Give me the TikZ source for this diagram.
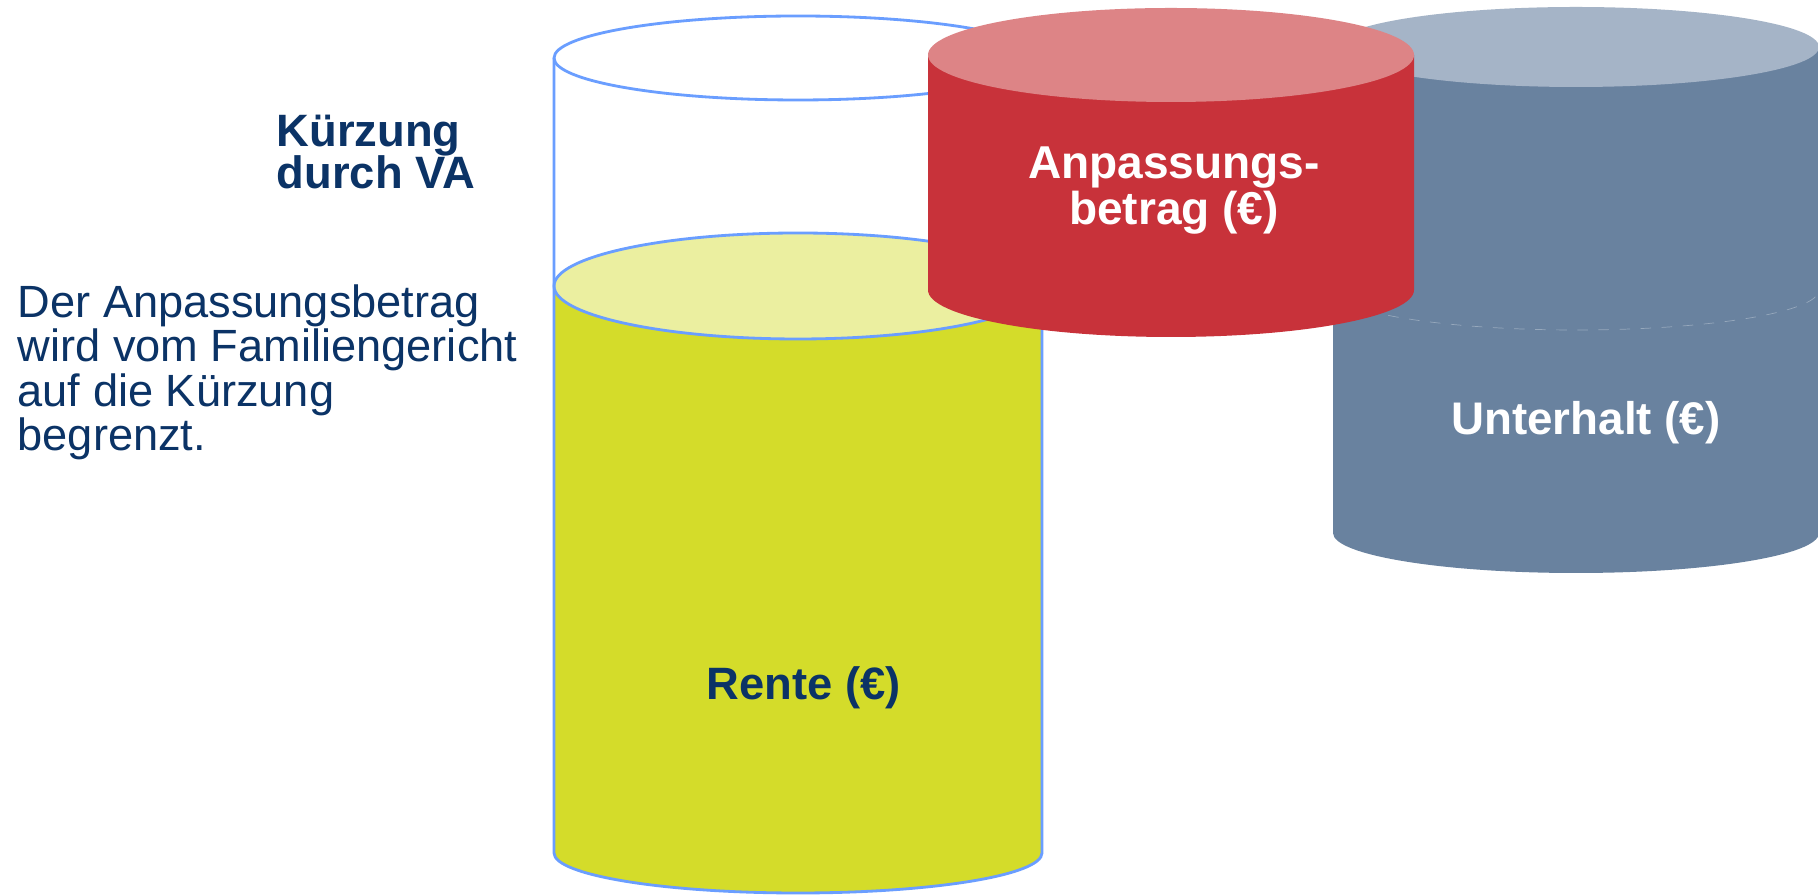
\documentclass[tikz,border=0pt]{standalone}
\usepackage{fontspec}
\setmainfont{Liberation Sans}
\usetikzlibrary{calc}

\definecolor{navy}{RGB}{11,51,102}
\definecolor{glassline}{RGB}{106,158,255}
\definecolor{lemon}{RGB}{212,220,42}
\definecolor{lemontop}{RGB}{235,239,160}
\definecolor{redside}{RGB}{200,50,58}
\definecolor{redtop}{RGB}{221,132,134}
\definecolor{blueside}{RGB}{105,130,159}
\definecolor{bluetop}{RGB}{165,180,199}

\begin{document}
\begin{tikzpicture}[
    x = 0.01cm,
    y = 0.01cm,
    cyllabel/.style = {inner sep = 0pt, align = center},
    sidetext/.style = {inner sep = 0pt, align = left, text = navy},
    glass/.style = {glassline, line width = 0.8pt}
  ]
    \useasboundingbox (0,0) rectangle (1818,-895);
    \fill[white] (0,0) rectangle (1818,-895);

    % glass with the Rente in it
    \fill[lemon] (554,-286) -- (554,-853)
      arc[start angle = 180, end angle = 360, x radius = 244, y radius = 40]
      -- (1042,-286) -- cycle;
    \fill[lemontop] (798,-286) ellipse[x radius = 244, y radius = 53];
    \draw[glass] (554,-58) -- (554,-853)
      arc[start angle = 180, end angle = 360, x radius = 244, y radius = 40]
      -- (1042,-58);
    \draw[glass] (798,-58) ellipse[x radius = 244, y radius = 42];
    \draw[glass] (798,-286) ellipse[x radius = 244, y radius = 53];

    % Unterhalt
    \fill[blueside] (1333,-47) -- (1333,-533)
      arc[start angle = 180, end angle = 360, x radius = 243, y radius = 40]
      -- (1819,-47) -- cycle;
    \fill[bluetop] (1576,-47) ellipse[x radius = 243, y radius = 40];
    \draw[white!30!blueside, dashed, line width = 0.2pt] (1333,-290)
      arc[start angle = 180, end angle = 360, x radius = 243, y radius = 40];

    % Anpassungsbetrag
    \fill[redside] (928,-55) -- (928,-290)
      arc[start angle = 180, end angle = 360, x radius = 243, y radius = 47]
      -- (1414,-55) -- cycle;
    \fill[redtop] (1171,-55) ellipse[x radius = 243, y radius = 47];

    \node[
    cyllabel,
    font = \fontsize{12.9}{12.2}\selectfont\bfseries,
    text = navy,
    anchor = base
    ] (rente) at (804,-700) {Rente (€)};
    \node[
    cyllabel,
    font = \fontsize{13.1}{13.2}\selectfont\bfseries,
    text = white,
    anchor = base
    ] (anpassung) at (1174,-225) {Anpassungs-\\betrag (€)};
    \node[
    cyllabel,
    font = \fontsize{13}{14}\selectfont\bfseries,
    text = white,
    anchor = base
    ] (unterhalt) at (1586,-435) {Unterhalt (€)};

    \node[
    sidetext,
    font = \fontsize{12.9}{12.1}\selectfont\bfseries,
    anchor = base west
    ] (kuerzung) at (276,-189) {Kürzung\\durch VA};
    \node[
    sidetext,
    font = \fontsize{12.85}{12.66}\selectfont,
    anchor = base west
    ] (erklaerung) at (17,-451) {Der Anpassungsbetrag\\wird vom Familiengericht\\auf die Kürzung\\begrenzt.};
  \end{tikzpicture}
\end{document}
